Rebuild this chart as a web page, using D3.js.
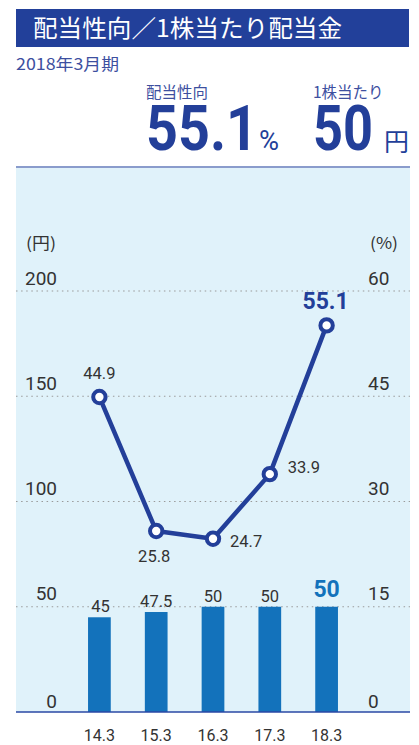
<!DOCTYPE html>
<html><head><meta charset="utf-8">
<script src="https://cdn.jsdelivr.net/npm/d3@7"></script>
<style>
html,body{margin:0;padding:0;background:#fff;}
svg{display:block;}
</style></head>
<body>
<script>
const categories = ["14.3","15.3","16.3","17.3","18.3"];
const dividends = [45, 47.5, 50, 50, 50];          // 円 (bars)
const payoutRatio = [44.9, 25.8, 24.7, 33.9, 55.1]; // % (line)
const leftTicks = [0, 50, 100, 150, 200];
const rightTicks = [0, 15, 30, 45, 60];
const titleText = "配当性向／1株当たり配当金";
const periodText = "2018年3月期";

const W = 419, H = 745;
const svg = d3.select("body").append("svg").attr("width", W).attr("height", H);
const jp = "'Noto Sans CJK JP','Noto Sans',sans-serif";
const num = "Roboto,'Noto Sans',sans-serif";
const navy = "#233f99", textBlue = "#3d4f9f", barBlue = "#1372bb", dark = "#333";

// title bar
svg.append("rect").attr("x",16).attr("y",9).attr("width",393).attr("height",38).attr("fill","#22409a");
svg.append("text").attr("x",33).attr("y",37).attr("fill","#fff").attr("font-family",jp)
  .attr("font-size",24).attr("textLength",309).attr("lengthAdjust","spacingAndGlyphs").text(titleText);
svg.append("text").attr("x",16).attr("y",70).attr("fill",textBlue).attr("font-family",jp)
  .attr("font-size",16).attr("textLength",103).attr("lengthAdjust","spacingAndGlyphs").text(periodText);

// headline figures
svg.append("text").attr("x",146).attr("y",98).attr("fill",textBlue).attr("font-family",jp).attr("font-size",15.5).text("配当性向");
svg.append("text").attr("x",313).attr("y",98).attr("fill",textBlue).attr("font-family",jp).attr("font-size",15.5).text("1株当たり");
svg.append("text").attr("x",146).attr("y",150).attr("fill",navy).attr("font-family",num).attr("font-weight","bold")
  .attr("font-size",63).attr("textLength",112).attr("lengthAdjust","spacingAndGlyphs").text(payoutRatio[payoutRatio.length-1].toFixed(1));
svg.append("text").attr("x",259).attr("y",150).attr("fill",navy).attr("font-family",num)
  .attr("font-size",27).attr("textLength",20).attr("lengthAdjust","spacingAndGlyphs").text("%");
svg.append("text").attr("x",313).attr("y",150).attr("fill",navy).attr("font-family",num).attr("font-weight","bold")
  .attr("font-size",63).attr("textLength",60).attr("lengthAdjust","spacingAndGlyphs").text(String(dividends[dividends.length-1]));
svg.append("text").attr("x",384).attr("y",151).attr("fill",navy).attr("font-family",jp)
  .attr("font-size",25).text("円");

// separator
svg.append("rect").attr("x",16).attr("y",166).attr("width",394).attr("height",2).attr("fill","#8a9ccc");
// panel
svg.append("rect").attr("x",16).attr("y",168).attr("width",394).attr("height",544).attr("fill","#e0f2fa");

// scales
const x = d3.scaleBand().domain(categories).range([71, 355]).paddingInner(0.6).paddingOuter(0.3);
const yL = d3.scaleLinear().domain([0,200]).range([712, 291]);
const yR = d3.scaleLinear().domain([0,60]).range([712, 291]);
const cx = d => x(d) + x.bandwidth()/2;

// grid
svg.append("g").selectAll("line").data(leftTicks.filter(t=>t>0)).join("line")
  .attr("x1",16).attr("x2",410).attr("y1",d=>yL(d)).attr("y2",d=>yL(d))
  .attr("stroke","#9a9a9a").attr("stroke-width",1.2).attr("stroke-dasharray","1.5,3.6");

// left axis labels
const gl = svg.append("g").attr("transform","translate(57,0)")
  .call(d3.axisLeft(yL).tickValues(leftTicks).tickSize(0).tickPadding(0));
gl.select(".domain").remove();
gl.selectAll("text").attr("font-family",num).attr("font-size",19).attr("fill",dark)
  .attr("dy", d => d===0 ? "-5px" : "-7px").attr("dominant-baseline","auto").attr("y",0);
const gr = svg.append("g").attr("transform","translate(368,0)")
  .call(d3.axisRight(yR).tickValues(rightTicks).tickSize(0).tickPadding(0));
gr.select(".domain").remove();
gr.selectAll("text").attr("font-family",num).attr("font-size",19).attr("fill",dark)
  .attr("dy", d => d===0 ? "-5px" : "-7px").attr("dominant-baseline","auto").attr("y",0);

// unit labels
svg.append("text").attr("x",26).attr("y",249).attr("font-family",jp).attr("font-size",16).attr("fill",dark)
  .attr("textLength",30).attr("lengthAdjust","spacingAndGlyphs").text("(円)");
svg.append("text").attr("x",370).attr("y",249).attr("font-family",jp).attr("font-size",16).attr("fill",dark)
  .attr("textLength",28).attr("lengthAdjust","spacingAndGlyphs").text("(%)");

// bars
svg.append("g").selectAll("rect").data(dividends).join("rect")
  .attr("x",(d,i)=>x(categories[i])).attr("width",x.bandwidth())
  .attr("y",d=>yL(d)).attr("height",d=>yL(0)-yL(d)).attr("fill",barBlue);
svg.append("g").selectAll("text").data(dividends).join("text")
  .attr("x",(d,i)=>cx(categories[i])+ (i===0?1:0)).attr("y",(d,i)=>yL(d)-(i===dividends.length-1?10:5))
  .attr("text-anchor","middle").attr("font-family",num)
  .attr("font-size",(d,i)=>i===dividends.length-1?23:16.5)
  .attr("font-weight",(d,i)=>i===dividends.length-1?"bold":"normal")
  .attr("fill",(d,i)=>i===dividends.length-1?barBlue:dark)
  .text(d=>d);

// axis baseline
svg.append("line").attr("x1",16).attr("x2",410).attr("y1",712).attr("y2",712).attr("stroke","#2a49a5").attr("stroke-width",1.5);

// x labels
const gx = svg.append("g").attr("transform","translate(0,712)")
  .call(d3.axisBottom(x).tickSize(0).tickPadding(0));
gx.select(".domain").remove();
gx.selectAll("text").attr("font-family",num).attr("font-size",16).attr("fill",dark).attr("dy",0).attr("y",29);

// line
const line = d3.line().x((d,i)=>cx(categories[i])).y(d=>yR(d));
svg.append("path").datum(payoutRatio).attr("d",line).attr("fill","none").attr("stroke",navy).attr("stroke-width",4.5).attr("stroke-linejoin","round");
svg.append("g").selectAll("circle").data(payoutRatio).join("circle")
  .attr("cx",(d,i)=>cx(categories[i])).attr("cy",d=>yR(d)).attr("r",6.2)
  .attr("fill","#fff").attr("stroke",navy).attr("stroke-width",4);

// line labels (offsets per point)
const off = [[0,-18,"middle"],[-2,31,"middle"],[17,8,"start"],[18,-1,"start"],[-1,-16,"middle"]];
svg.append("g").selectAll("text").data(payoutRatio).join("text")
  .attr("x",(d,i)=>cx(categories[i])+off[i][0]).attr("y",(d,i)=>yR(d)+off[i][1])
  .attr("text-anchor",(d,i)=>off[i][2]).attr("font-family",num)
  .attr("font-size",(d,i)=>i===payoutRatio.length-1?23:16.5)
  .attr("font-weight",(d,i)=>i===payoutRatio.length-1?"bold":"normal")
  .attr("fill",(d,i)=>i===payoutRatio.length-1?navy:dark)
  .text(d=>d.toFixed(1));
</script>
</body></html>
